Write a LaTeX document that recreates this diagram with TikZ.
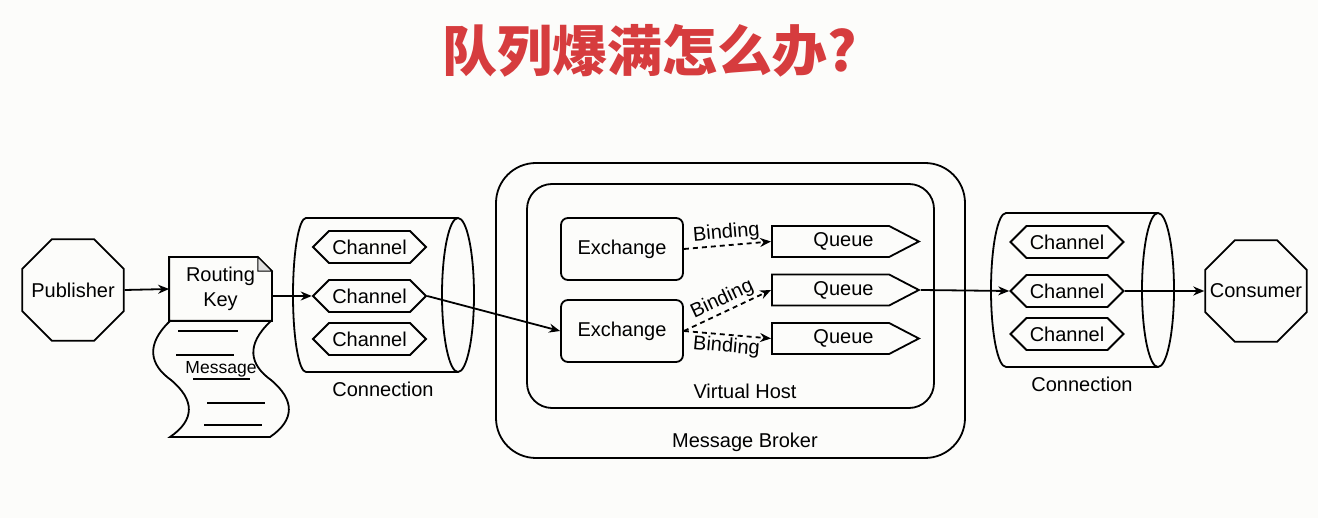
\documentclass[tikz,border=0pt]{standalone}
\usepackage{fontspec}
\setmainfont{Liberation Sans}
\newfontfamily\cjk{Noto Sans CJK SC}
\usetikzlibrary{arrows.meta,shapes.geometric,shapes.symbols,calc}
\definecolor{bg}{RGB}{252,252,250}
\definecolor{titlered}{RGB}{214,60,62}
\begin{document}
\begin{tikzpicture}[x=1pt,y=-1pt,line width=1.8pt,
  lbl/.style={font=\fontsize{20}{25}\selectfont},
  box/.style={draw,rounded corners=7pt,minimum width=122pt,minimum height=62pt,lbl},
  chan/.style={draw,signal,signal to=west and east,minimum width=113pt,minimum height=32pt,inner sep=0pt,lbl},
  queue/.style={draw,signal,signal to=east,signal pointer angle=55,minimum width=147pt,minimum height=31pt,inner sep=0pt,lbl,anchor=west},
  octa/.style={draw,regular polygon,regular polygon sides=8,minimum size=110pt,inner sep=0pt,lbl},
  arr/.style={-{Stealth[length=11pt,width=9pt]}},
  bind/.style={arr,dash pattern=on 5pt off 4pt}]
\useasboundingbox[fill=bg] (0,0) rectangle (1318,518);
% title
\node[text=titlered,font=\cjk\bfseries\fontsize{55}{60}\selectfont] (title) at (650,51) {队列爆满怎么办?};
% publisher
\node[octa] (pub) at (73,290) {\makebox[0pt]{Publisher}};
% routing key
\node[lbl,align=center,minimum width=101pt,minimum height=62pt,inner sep=0pt] (rk) at (220.5,289) {Routing\\Key};
\draw ($(rk.north east)+(-14,0)$) -- (rk.north west) -- (rk.south west) -- (rk.south east) -- ($(rk.north east)+(0,14)$) -- cycle;
\draw[fill=gray!25,line width=1pt] ($(rk.north east)+(-14,0)$) -- ($(rk.north east)+(-14,14)$) -- ($(rk.north east)+(0,14)$) -- cycle;
% message
\draw (170,321) .. controls (145,345) and (150,365) .. (171,380) .. controls (195,400) and (195,420) .. (170,437)
  -- (270,437) .. controls (295,420) and (295,400) .. (271,380) .. controls (250,365) and (245,345) .. (271,321);
\draw (178,331) -- (238,331);
\draw (176,355) -- (234,355);
\node[font=\fontsize{17.5}{20}\selectfont] (msg) at (221,369) {Message};
\draw (193,379) -- (250,379);
\draw (207,403) -- (265,403);
\draw (204,425) -- (262,425);
% connection 1
\draw (458,218) -- (306,218) .. controls (298.8,218) and (293,252.5) .. (293,295) .. controls (293,337.5) and (298.8,372) .. (306,372) -- (458,372);
\draw (458,295) ellipse [x radius=16, y radius=77];
\node[chan] (ch11) at (369.5,247) {Channel};
\node[chan] (ch12) at (369.5,296) {Channel};
\node[chan] (ch13) at (369.5,339) {Channel};
\node[lbl] (conn1) at (383,389) {Connection};
% broker
\node[draw,rounded corners=40pt,minimum width=469pt,minimum height=295pt] (mb) at (730.5,310.5) {};
\node[lbl] (mbl) at (745,442) {Message Broker};
\node[draw,rounded corners=25pt,minimum width=407pt,minimum height=224pt] (vh) at (730.5,296) {};
\node[lbl] (vhl) at (745,391) {Virtual Host};
\node[box] (ex1) at (622,249) {Exchange};
\node[box] (ex2) at (622,331) {Exchange};
\node[queue] (q1) at (771,241.5) {\hspace*{26pt}Queue};
\node[queue] (q2) at (771,290) {\hspace*{26pt}Queue};
\node[queue] (q3) at (771,338.5) {\hspace*{26pt}Queue};
% connection 2
\draw (1158,213) -- (1006,213) .. controls (997.7,213) and (991,247.5) .. (991,290) .. controls (991,332.5) and (997.7,367) .. (1006,367) -- (1158,367);
\draw (1158,290) ellipse [x radius=16, y radius=77];
\node[chan] (ch21) at (1067,242) {Channel};
\node[chan] (ch22) at (1067,291) {Channel};
\node[chan] (ch23) at (1067,334) {Channel};
\node[lbl] (conn2) at (1082,384) {Connection};
% consumer
\node[octa] (cons) at (1256,291) {\makebox[0pt]{Consumer}};
% connectors
\draw[arr] (pub.east) -- (rk.west);
\draw[arr] (ch12.west -| rk.east) -- (ch12.west);
\draw[arr] (ch12.east) -- (ex2.west);
\draw[bind] (ex1.east) -- node[lbl,sloped,above,inner sep=2pt] {Binding} (q1.west);
\draw[bind] (ex2.east) -- node[lbl,sloped,above,inner sep=2pt] {Binding} (q2.west);
\draw[bind] (ex2.east) -- node[lbl,sloped,below,inner sep=2pt] {Binding} (q3.west);
\draw[arr] (q2.east) -- (ch22.west);
\draw[arr] (ch22.east) -- (cons.west);
\end{tikzpicture}
\end{document}
